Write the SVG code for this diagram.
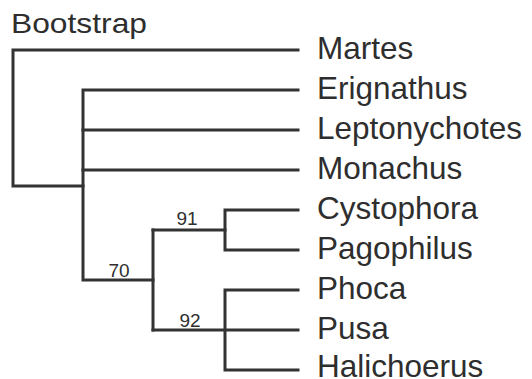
<svg xmlns="http://www.w3.org/2000/svg" width="532" height="379" viewBox="0 0 532 379">
<style>
.e{fill:none;stroke:#333;stroke-width:3;stroke-linecap:square;stroke-linejoin:miter}
.t{font-family:"Liberation Sans",Arial,sans-serif;font-size:31.5px;fill:#2e2e2e}
.b{font-family:"Liberation Sans",Arial,sans-serif;font-size:19px;fill:#2e2e2e;text-anchor:middle}
</style>
<rect width="532" height="379" fill="#fff"/>
<g id="connectors">
<path class="e" d="M298,50 H13 V186 H83"/>
<path class="e" d="M298,90 H83 V280 H153"/>
<path class="e" d="M83,130 H298"/>
<path class="e" d="M83,170 H298"/>
<path class="e" d="M153,230 V330"/>
<path class="e" d="M153,230 H225"/>
<path class="e" d="M298,210 H225 V250 H298"/>
<path class="e" d="M153,330 H298"/>
<path class="e" d="M298,290 H225 V370 H298"/>
</g>
<g id="title"><text class="t" x="11" y="33" style="font-size:28px" textLength="136" lengthAdjust="spacingAndGlyphs">Bootstrap</text></g>
<g id="n-martes"><text class="t" x="317" y="59">Martes</text></g>
<g id="n-erignathus"><text class="t" x="317" y="99">Erignathus</text></g>
<g id="n-leptonychotes"><text class="t" x="317" y="139">Leptonychotes</text></g>
<g id="n-monachus"><text class="t" x="317" y="179">Monachus</text></g>
<g id="n-cystophora"><text class="t" x="317" y="219">Cystophora</text></g>
<g id="n-pagophilus"><text class="t" x="317" y="259">Pagophilus</text></g>
<g id="n-phoca"><text class="t" x="317" y="299">Phoca</text></g>
<g id="n-pusa"><text class="t" x="317" y="339">Pusa</text></g>
<g id="n-halichoerus"><text class="t" x="317" y="377">Halichoerus</text></g>
<g id="bootstrap-values">
<text class="b" x="119" y="277">70</text>
<text class="b" x="187" y="225">91</text>
<text class="b" x="190" y="327">92</text>
</g>
</svg>
